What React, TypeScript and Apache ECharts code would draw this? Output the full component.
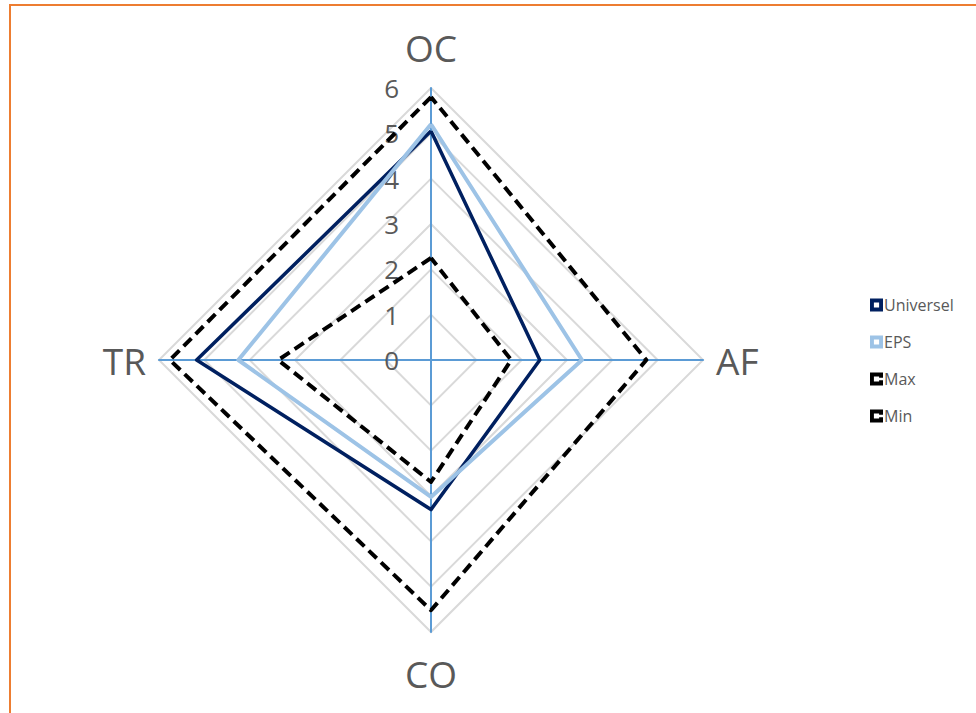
import React, { useEffect, useRef } from "react";
import * as echarts from "echarts";

// order follows ECharts' counter-clockwise radar layout: top, left, bottom, right
const indicators = ["OC", "TR", "CO", "AF"];
const maxValue = 6;
const tickLabels = ["0", "1", "2", "3", "4", "5", "6"];
const universel = [5.05, 5.17, 3.3, 2.4];
const eps = [5.2, 4.25, 3.02, 3.33];
const maxSeries = [5.8, 5.76, 5.52, 4.75];
const minSeries = [2.25, 3.37, 2.69, 1.77];

const squareIcon = "path://M0,0H10V10H0Z M3,3V7H7V3Z";
const dashIcon = "path://M0,0H10V4H7V3H3V7H7V6H10V10H0Z";

export default function App() {
  const ref = useRef<HTMLDivElement>(null);
  useEffect(() => {
    const chart = echarts.init(ref.current!, null, { renderer: "svg" });
    const font = "'Open Sans', 'Noto Sans', sans-serif";
    chart.setOption({
      animation: false,
      backgroundColor: "#ffffff",
      textStyle: { fontFamily: font },
      graphic: [
        {
          type: "rect",
          shape: { x: 10, y: 5, width: 1000, height: 800 },
          style: { fill: "none", stroke: "#ED7D31", lineWidth: 2 },
          silent: true,
        },
      ],
      legend: {
        orient: "vertical",
        left: 865,
        top: 292,
        itemWidth: 13,
        itemHeight: 13,
        itemGap: 21,
        textStyle: { color: "#595959", fontSize: 16, fontFamily: font, padding: [0, 0, 0, -4] },
        data: [
          { name: "Universel", icon: squareIcon },
          { name: "EPS", icon: squareIcon },
          { name: "Max", icon: dashIcon },
          { name: "Min", icon: dashIcon },
        ],
      },
      radar: {
        center: [431, 360],
        radius: 272,
        startAngle: 90,
        shape: "polygon",
        splitNumber: 6,
        indicator: indicators.map((n) => ({ name: n, max: maxValue, min: 0 })),
        axisName: { color: "#595959", fontSize: 37, lineHeight: 56, fontFamily: font },
        nameGap: 13,
        axisLine: { lineStyle: { color: "#5B9BD5", width: 2 } },
        splitLine: { lineStyle: { color: "#D9D9D9", width: 2 } },
        splitArea: { show: false },
        axisTick: { show: false },
        axisLabel: { show: false },
      },
      grid: {
        left: 431,
        top: 88,
        width: 10,
        height: 272,
        containLabel: false,
        outerBoundsMode: "none",
      },
      xAxis: { type: "value", show: false },
      yAxis: {
        type: "value",
        min: 0,
        max: maxValue,
        interval: 1,
        axisLine: { show: false },
        axisTick: { show: false },
        splitLine: { show: false },
        axisLabel: {
          color: "#595959",
          fontSize: 26,
          margin: 32,
          fontFamily: font,
          formatter: (v: number) => tickLabels[Math.round(v)] ?? "",
        },
      },
      series: [
        {
          type: "radar",
          symbol: "none",
          data: [
            { name: "Universel", value: universel, lineStyle: { color: "#002060", width: 3.5 }, itemStyle: { color: "#002060" } },
            { name: "EPS", value: eps, lineStyle: { color: "#9DC3E6", width: 4 }, itemStyle: { color: "#9DC3E6" } },
            { name: "Max", value: maxSeries, lineStyle: { color: "#000000", width: 4, type: [11, 6] }, itemStyle: { color: "#000000" } },
            { name: "Min", value: minSeries, lineStyle: { color: "#000000", width: 4, type: [11, 6] }, itemStyle: { color: "#000000" } },
          ],
        },
      ],
    });
    return () => chart.dispose();
  }, []);
  return (
    <div
      ref={ref}
      style={{ position: "absolute", left: 0, top: 0, width: 976, height: 713 }}
    />
  );
}
